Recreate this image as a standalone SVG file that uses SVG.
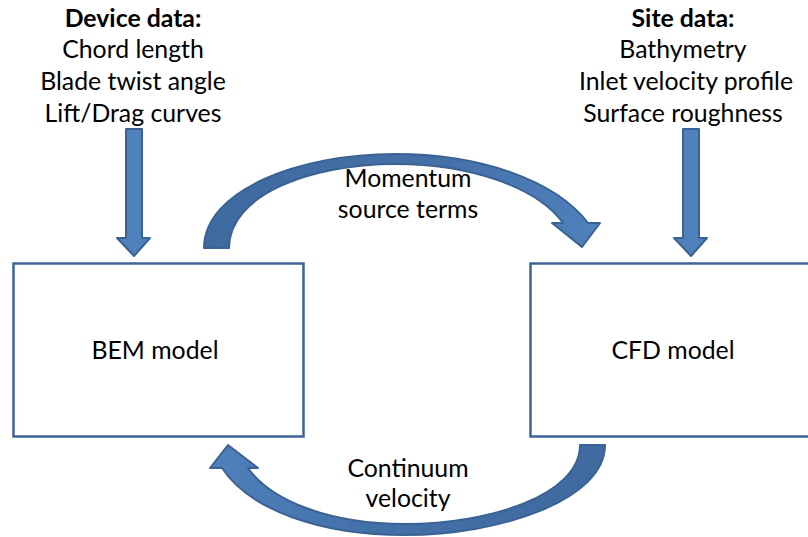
<svg xmlns="http://www.w3.org/2000/svg" width="808" height="537" viewBox="0 0 808 537">
<defs>
<style>
.t{font-family:Lato,"Open Sans","Liberation Sans",sans-serif;font-size:24.8px;fill:#000;text-anchor:middle}
.b{font-weight:bold}
.box{fill:#fff;stroke:#3c6496;stroke-width:2.5}
.arr{stroke:#3a6394;stroke-width:2;stroke-linejoin:round}
.down{fill:#4f81bd}
</style>
<linearGradient id="gTop" x1="0" y1="0" x2="1" y2="0">
<stop offset="0" stop-color="#3f6aa0"/>
<stop offset="0.6" stop-color="#4470a8"/>
<stop offset="1" stop-color="#4f81bd"/>
</linearGradient>
<linearGradient id="gBot" x1="1" y1="0" x2="0" y2="0">
<stop offset="0" stop-color="#3f6aa0"/>
<stop offset="0.6" stop-color="#4470a8"/>
<stop offset="1" stop-color="#4f81bd"/>
</linearGradient>
</defs>
<g id="device-data">
<text class="t b" x="133" y="27">Device data:</text>
<text class="t" x="133" y="58">Chord length</text>
<text class="t" x="133" y="90">Blade twist angle</text>
<text class="t" x="133" y="122">Lift/Drag curves</text>
</g>
<g id="site-data">
<text class="t b" x="683" y="27">Site data:</text>
<text class="t" x="683" y="58">Bathymetry</text>
<text class="t" x="686" y="90">Inlet velocity profile</text>
<text class="t" x="683" y="122">Surface roughness</text>
</g>
<g id="bem-model">
<rect class="box" x="13.5" y="263.5" width="290" height="173"/>
<text class="t" x="155" y="359">BEM model</text>
</g>
<g id="cfd-model">
<rect class="box" x="530.5" y="263.5" width="290" height="173"/>
<text class="t" x="673" y="359">CFD model</text>
</g>
<g id="connectors">
<path class="arr down" d="M126,129 L142,129 L142,238 L150,238 L134,256 L117,238 L126,238 Z"/>
<path class="arr down" d="M683,129 L699,129 L699,238 L707,238 L691,256 L674,238 L683,238 Z"/>
<path class="arr" fill="url(#gTop)" d="M204,248 C204,190 300,154 395,154 C480,154 555,180 588,223 L600,223 L582,247 L552,223 L563,223 C538,188 472,164 395,164 C310,164 229,195 229,248 Z"/>
<path class="arr" fill="url(#gBot)" d="M605,445 C605,500 500,535 405,535 C320,535 250,510 222,468 L210,468 L228,445 L258,468 L248,468 C272,502 332,524 405,524 C490,524 580,495 580,445 Z"/>
<text class="t" x="408" y="187">Momentum</text>
<text class="t" x="408" y="218">source terms</text>
<text class="t" x="408" y="477">Continuum</text>
<text class="t" x="408" y="507">velocity</text>
</g>
</svg>
